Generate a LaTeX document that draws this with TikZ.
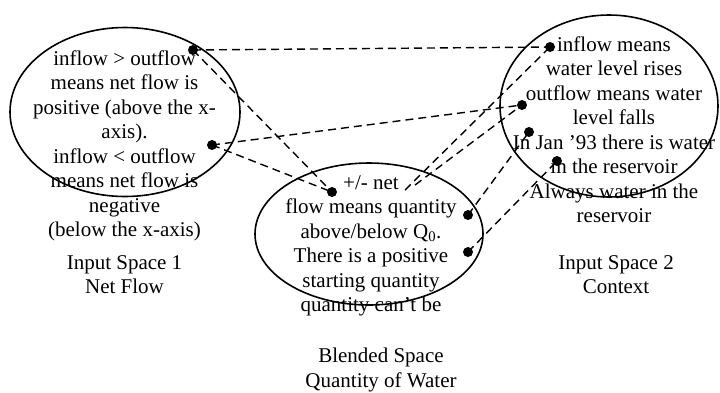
\documentclass[tikz,border=0pt]{standalone}
\usepackage{fontspec}
\setmainfont{Liberation Serif}
\usepackage{tikz}
\usetikzlibrary{shapes}
\tikzstyle{space}=[draw=black, line width=1.6pt, ellipse, inner sep=0pt]
\tikzstyle{dot}=[circle, fill=black, inner sep=0pt, minimum size=10pt]
\tikzstyle{link}=[draw=black, line width=1.4pt, dash pattern=on 8pt off 5pt]
\tikzstyle{txt}=[align=center, inner sep=0pt, anchor=north, font=\fontsize{21}{24.5}\selectfont]

\begin{document}
\begin{tikzpicture}[x=1pt, y=-1pt]
  \useasboundingbox (0,0) rectangle (720,392);
  % the three spaces
  \node[space, minimum width=230pt, minimum height=169pt] (input1) at (125,112) {};
  \node[space, minimum width=228pt, minimum height=142pt] (blend) at (369,234) {};
  \node[space, minimum width=218pt, minimum height=182pt] (input2) at (609,106) {};
  % texts
  \node[txt] (t1) at (124.5,50.5) {inflow > outflow\\ means net flow is\\ positive (above the x-\\ axis).\\ inflow < outflow\\ means net flow is\\ negative\\ (below the x-axis)};
  \node[txt] (tb) at (371,175) {+/- net\\ flow means quantity\\ above/below Q\textsubscript{0}.\\ There is a positive\\ starting quantity\\ quantity can’t be};
  \node[txt] (t2) at (614,36.5) {inflow means\\ water level rises\\ outflow means water\\ level falls\\ In Jan ’93 there is water\\ in the reservoir\\ Always water in the\\ reservoir};
  \node[txt] (n1) at (124.5,255) {Input Space 1\\ Net Flow};
  \node[txt] (nb) at (381,348) {Blended Space\\ Quantity of Water};
  \node[txt] (n2) at (616,255) {Input Space 2\\ Context};
  % mapping points
  \node[dot] (l1) at (193,50) {};
  \node[dot] (l2) at (212,145) {};
  \node[dot] (b1) at (332,192) {};
  \node[dot] (b2) at (468,215) {};
  \node[dot] (b3) at (468,252) {};
  \node[dot] (r1) at (550,47) {};
  \node[dot] (r2) at (522,105) {};
  \node[dot] (r3) at (529,132) {};
  \node[dot] (r4) at (557,161) {};
  \coordinate (pa) at (405,190);
  \coordinate (pb) at (415,185);
  % connections
  \draw[link] (l1.center) -- (r1.center);
  \draw[link] (l1.center) -- (b1.center);
  \draw[link] (l2.center) -- (r2.center);
  \draw[link] (l2.center) -- (b1.center);
  \draw[link] (pa) -- (r1.center);
  \draw[link] (pb) -- (r2.center);
  \draw[link] (b2.center) -- (r3.center);
  \draw[link] (b3.center) -- (r4.center);
\end{tikzpicture}
\end{document}
